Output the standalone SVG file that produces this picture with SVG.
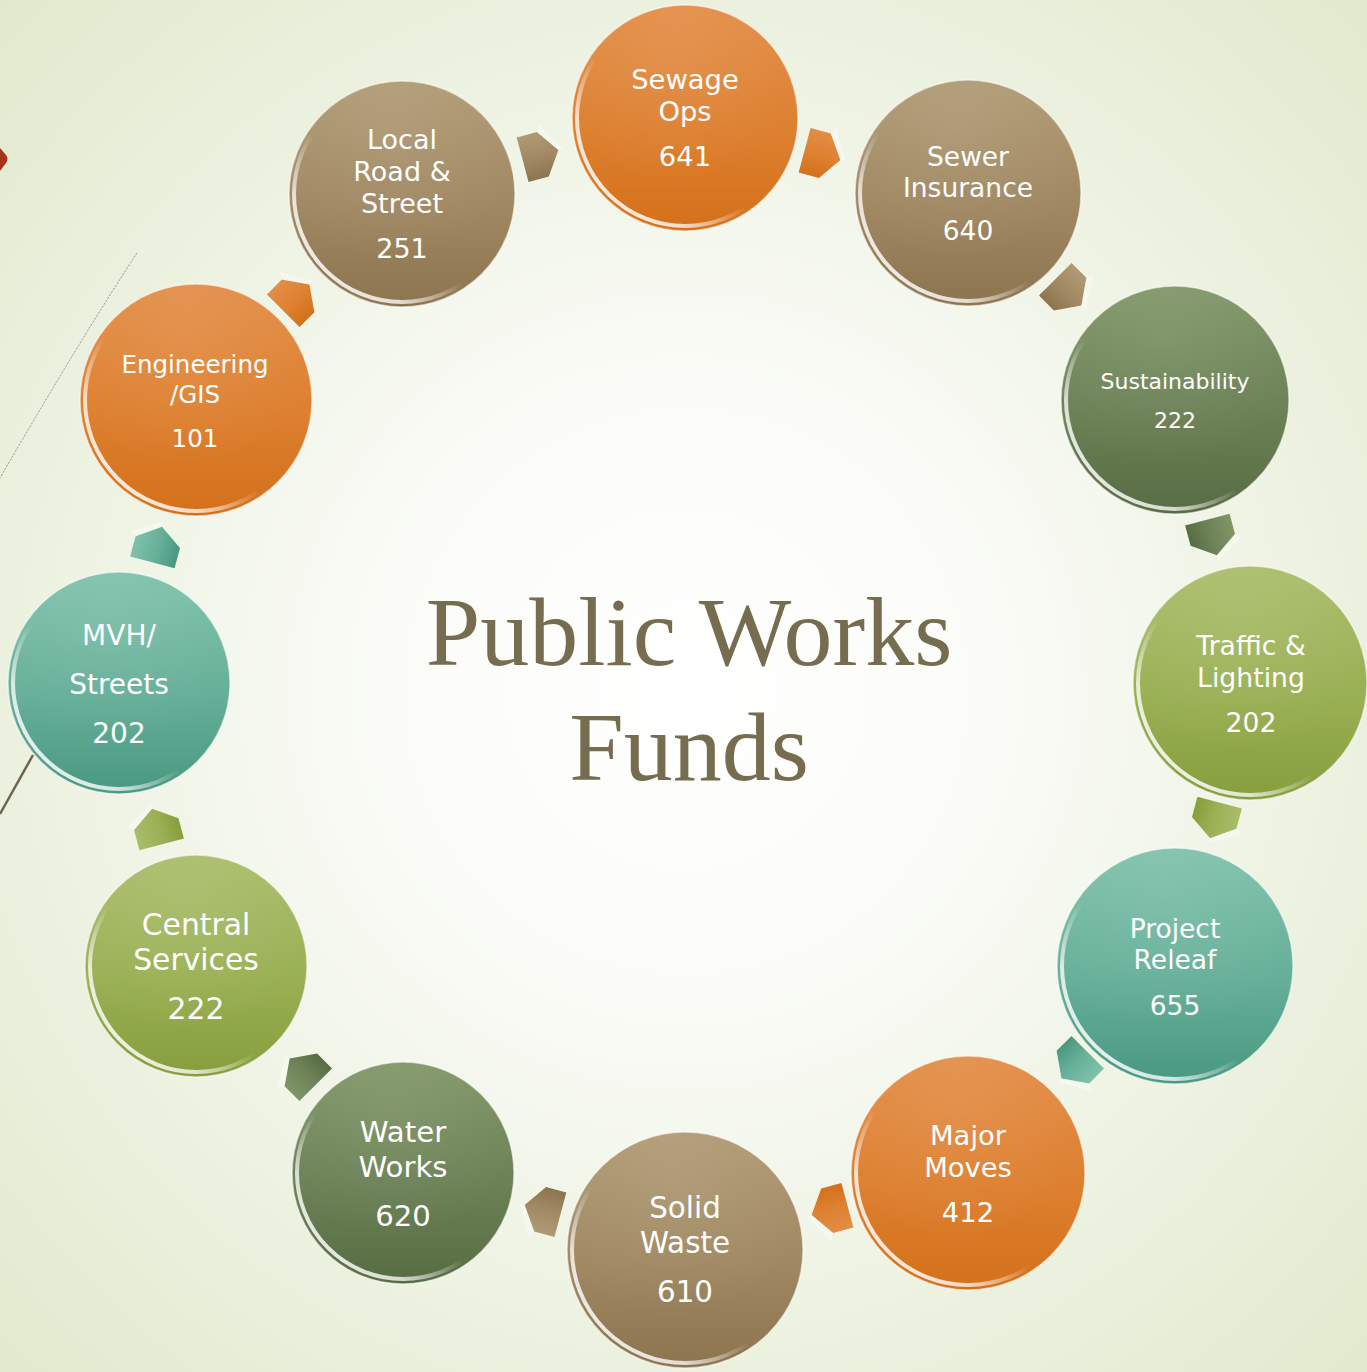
<svg xmlns="http://www.w3.org/2000/svg" xmlns:xlink="http://www.w3.org/1999/xlink" width="1367" height="1372" viewBox="0 0 1367 1372">
<defs>
<radialGradient id="bg" cx="686" cy="690" r="980" gradientUnits="userSpaceOnUse">
<stop offset="0" stop-color="#ffffff"/>
<stop offset="0.3" stop-color="#fbfcf8"/>
<stop offset="0.62" stop-color="#eef3e3"/>
<stop offset="1" stop-color="#e1e9cd"/>
</radialGradient>
<linearGradient id="gOrange" x1="0" y1="0" x2="0" y2="1">
<stop offset="0" stop-color="#e38d47"/><stop offset="0.55" stop-color="#dd8030"/><stop offset="1" stop-color="#d4701a"/>
</linearGradient>
<linearGradient id="gTan" x1="0" y1="0" x2="0" y2="1">
<stop offset="0" stop-color="#b09a74"/><stop offset="0.55" stop-color="#a08862"/><stop offset="1" stop-color="#8c744f"/>
</linearGradient>
<linearGradient id="gDk" x1="0" y1="0" x2="0" y2="1">
<stop offset="0" stop-color="#809667"/><stop offset="0.55" stop-color="#6c8156"/><stop offset="1" stop-color="#586c43"/>
</linearGradient>
<linearGradient id="gLt" x1="0" y1="0" x2="0" y2="1">
<stop offset="0" stop-color="#a9bd6a"/><stop offset="0.55" stop-color="#9ab054"/><stop offset="1" stop-color="#869e3c"/>
</linearGradient>
<linearGradient id="gTeal" x1="0" y1="0" x2="0" y2="1">
<stop offset="0" stop-color="#7fc2ab"/><stop offset="0.55" stop-color="#66af98"/><stop offset="1" stop-color="#4a9881"/>
</linearGradient>
<radialGradient id="gloss" cx="0.45" cy="0.2" r="0.6">
<stop offset="0" stop-color="#ffffff" stop-opacity="0.08"/>
<stop offset="1" stop-color="#ffffff" stop-opacity="0"/>
</radialGradient>
<linearGradient id="rim" x1="0" y1="1" x2="0.7" y2="0.3">
<stop offset="0" stop-color="#ffffff" stop-opacity="0.95"/>
<stop offset="0.35" stop-color="#ffffff" stop-opacity="0.75"/>
<stop offset="0.62" stop-color="#ffffff" stop-opacity="0"/>
</linearGradient>
<path id="arw" d="M -18,-23 L 3,-23 L 19,0 L 3,23 L -18,23 Z"/>
<path id="arwEdge" d="M 3,-23 L 7,-30 L 24,0 L 19,0 Z"/>
</defs>
<style>
.ring{fill:none;stroke:#ffffff;stroke-opacity:0.55;stroke-width:1.5}
.rim{fill:none;stroke:url(#rim);stroke-width:4}
.gl{fill:url(#gloss)}
.lbl{font-family:"DejaVu Sans","Open Sans",sans-serif;fill:#ffffff;text-anchor:middle}
.edge{fill:#ffffff;fill-opacity:0.4}
.title{font-family:"Liberation Serif","Times New Roman",serif;fill:#766c4f;text-anchor:middle;font-size:98px}
</style>
<rect width="1367" height="1372" fill="url(#bg)"/>
<path d="M 137,253 Q 80,340 0,478" fill="none" stroke="#8a8a80" stroke-width="1" stroke-dasharray="2,1.5"/>
<path d="M 33,755 L 0,814" fill="none" stroke="#6e6450" stroke-width="2.5"/>
<path d="M 0,148 L 6,155 Q 9,159 6,163 L 0,171 Z" fill="#a8341a"/>

<g id="title">
<text class="title" x="689" y="665">Public Works</text>
<text class="title" x="689" y="780">Funds</text>
</g>

<g id="connectors">
<g transform="translate(540,155) rotate(-15)"><use xlink:href="#arw" fill="url(#gTan)"/><use xlink:href="#arwEdge" class="edge"/></g>
<g transform="translate(822,155) rotate(15)"><use xlink:href="#arw" fill="url(#gOrange)"/><use xlink:href="#arwEdge" class="edge"/></g>
<g transform="translate(1068,292) rotate(45)"><use xlink:href="#arw" fill="url(#gTan)"/><use xlink:href="#arwEdge" class="edge"/></g>
<g transform="translate(1212,537) rotate(75)"><use xlink:href="#arw" fill="url(#gDk)"/><use xlink:href="#arwEdge" class="edge"/></g>
<g transform="translate(1215,820) rotate(105)"><use xlink:href="#arw" fill="url(#gLt)"/><use xlink:href="#arwEdge" class="edge"/></g>
<g transform="translate(1075,1065) rotate(135)"><use xlink:href="#arw" fill="url(#gTeal)"/><use xlink:href="#arwEdge" class="edge"/></g>
<g transform="translate(830,1210) rotate(165)"><use xlink:href="#arw" fill="url(#gOrange)"/><use xlink:href="#arwEdge" class="edge"/></g>
<g transform="translate(543,1210) rotate(195)"><use xlink:href="#arw" fill="url(#gTan)"/><use xlink:href="#arwEdge" class="edge"/></g>
<g transform="translate(303,1072) rotate(225)"><use xlink:href="#arw" fill="url(#gDk)"/><use xlink:href="#arwEdge" class="edge"/></g>
<g transform="translate(157,827) rotate(255)"><use xlink:href="#arw" fill="url(#gLt)"/><use xlink:href="#arwEdge" class="edge"/></g>
<g transform="translate(157,545) rotate(285)"><use xlink:href="#arw" fill="url(#gTeal)"/><use xlink:href="#arwEdge" class="edge"/></g>
<g transform="translate(296,298) rotate(315)"><use xlink:href="#arw" fill="url(#gOrange)"/><use xlink:href="#arwEdge" class="edge"/></g>
</g>

<g id="node-sewage-ops">
<circle cx="685" cy="118" r="113" fill="url(#gOrange)"/>
<circle cx="685" cy="118" r="113" class="gl"/>
<circle cx="685" cy="118" r="108" class="rim"/>
<circle cx="685" cy="118" r="113" class="ring"/>
<text class="lbl" font-size="27.4"><tspan x="685" y="89">Sewage</tspan><tspan x="685" y="121">Ops</tspan><tspan x="685" y="166">641</tspan></text>
</g>

<g id="node-sewer-insurance">
<circle cx="968" cy="193" r="113" fill="url(#gTan)"/>
<circle cx="968" cy="193" r="113" class="gl"/>
<circle cx="968" cy="193" r="108" class="rim"/>
<circle cx="968" cy="193" r="113" class="ring"/>
<text class="lbl" font-size="26.5"><tspan x="968" y="166">Sewer</tspan><tspan x="968" y="197">Insurance</tspan><tspan x="968" y="240">640</tspan></text>
</g>

<g id="node-sustainability">
<circle cx="1175" cy="400" r="114" fill="url(#gDk)"/>
<circle cx="1175" cy="400" r="114" class="gl"/>
<circle cx="1175" cy="400" r="109" class="rim"/>
<circle cx="1175" cy="400" r="114" class="ring"/>
<text class="lbl" font-size="22"><tspan x="1175" y="389">Sustainability</tspan><tspan x="1175" y="428">222</tspan></text>
</g>

<g id="node-traffic-lighting">
<circle cx="1250" cy="683" r="117" fill="url(#gLt)"/>
<circle cx="1250" cy="683" r="117" class="gl"/>
<circle cx="1250" cy="683" r="112" class="rim"/>
<circle cx="1250" cy="683" r="117" class="ring"/>
<text class="lbl" font-size="26.7"><tspan x="1251" y="655">Traffic &amp;</tspan><tspan x="1251" y="687">Lighting</tspan><tspan x="1251" y="732">202</tspan></text>
</g>

<g id="node-project-releaf">
<circle cx="1175" cy="966" r="118" fill="url(#gTeal)"/>
<circle cx="1175" cy="966" r="118" class="gl"/>
<circle cx="1175" cy="966" r="113" class="rim"/>
<circle cx="1175" cy="966" r="118" class="ring"/>
<text class="lbl" font-size="26.5"><tspan x="1175" y="938">Project</tspan><tspan x="1175" y="969">Releaf</tspan><tspan x="1175" y="1015">655</tspan></text>
</g>

<g id="node-major-moves">
<circle cx="968" cy="1173" r="117" fill="url(#gOrange)"/>
<circle cx="968" cy="1173" r="117" class="gl"/>
<circle cx="968" cy="1173" r="112" class="rim"/>
<circle cx="968" cy="1173" r="117" class="ring"/>
<text class="lbl" font-size="27.4"><tspan x="968" y="1145">Major</tspan><tspan x="968" y="1177">Moves</tspan><tspan x="968" y="1222">412</tspan></text>
</g>

<g id="node-solid-waste">
<circle cx="685" cy="1250" r="118" fill="url(#gTan)"/>
<circle cx="685" cy="1250" r="118" class="gl"/>
<circle cx="685" cy="1250" r="113" class="rim"/>
<circle cx="685" cy="1250" r="118" class="ring"/>
<text class="lbl" font-size="29.4"><tspan x="685" y="1218">Solid</tspan><tspan x="685" y="1253">Waste</tspan><tspan x="685" y="1302">610</tspan></text>
</g>

<g id="node-water-works">
<circle cx="403" cy="1173" r="111" fill="url(#gDk)"/>
<circle cx="403" cy="1173" r="111" class="gl"/>
<circle cx="403" cy="1173" r="106" class="rim"/>
<circle cx="403" cy="1173" r="111" class="ring"/>
<text class="lbl" font-size="29.2"><tspan x="403" y="1142">Water</tspan><tspan x="403" y="1177">Works</tspan><tspan x="403" y="1226">620</tspan></text>
</g>

<g id="node-central-services">
<circle cx="196" cy="966" r="111" fill="url(#gLt)"/>
<circle cx="196" cy="966" r="111" class="gl"/>
<circle cx="196" cy="966" r="106" class="rim"/>
<circle cx="196" cy="966" r="111" class="ring"/>
<text class="lbl" font-size="29.8"><tspan x="196" y="935">Central</tspan><tspan x="196" y="970">Services</tspan><tspan x="196" y="1019">222</tspan></text>
</g>

<g id="node-mvh-streets">
<circle cx="119" cy="683" r="111" fill="url(#gTeal)"/>
<circle cx="119" cy="683" r="111" class="gl"/>
<circle cx="119" cy="683" r="106" class="rim"/>
<circle cx="119" cy="683" r="111" class="ring"/>
<text class="lbl" font-size="28"><tspan x="119" y="645">MVH/</tspan><tspan x="119" y="694">Streets</tspan><tspan x="119" y="743">202</tspan></text>
</g>

<g id="node-engineering-gis">
<circle cx="196" cy="400" r="116" fill="url(#gOrange)"/>
<circle cx="196" cy="400" r="116" class="gl"/>
<circle cx="196" cy="400" r="111" class="rim"/>
<circle cx="196" cy="400" r="116" class="ring"/>
<text class="lbl" font-size="24.5"><tspan x="195" y="373">Engineering</tspan><tspan x="195" y="403">/GIS</tspan><tspan x="195" y="447">101</tspan></text>
</g>

<g id="node-local-road-street">
<circle cx="402" cy="194" r="113" fill="url(#gTan)"/>
<circle cx="402" cy="194" r="113" class="gl"/>
<circle cx="402" cy="194" r="108" class="rim"/>
<circle cx="402" cy="194" r="113" class="ring"/>
<text class="lbl" font-size="27"><tspan x="402" y="149">Local</tspan><tspan x="402" y="181">Road &amp;</tspan><tspan x="402" y="213">Street</tspan><tspan x="402" y="258">251</tspan></text>
</g>
</svg>
